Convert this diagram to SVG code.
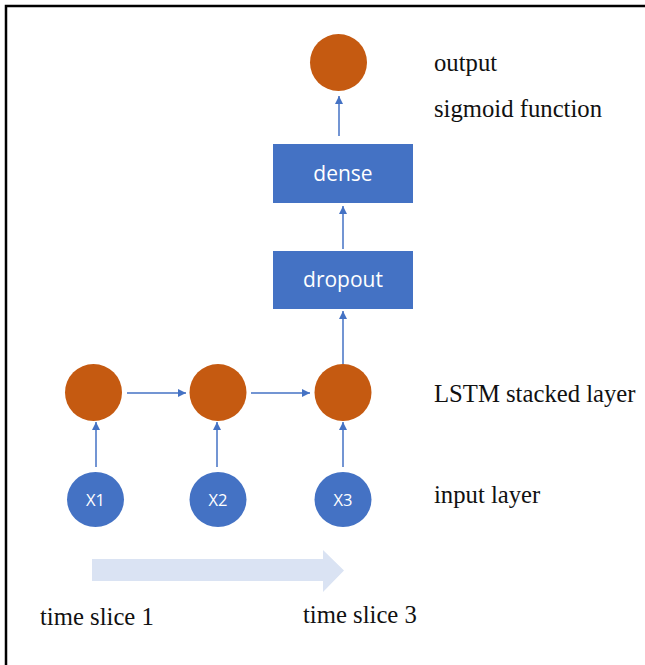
<svg xmlns="http://www.w3.org/2000/svg" width="645" height="665" viewBox="0 0 645 665">
  <style>
    .orange { fill: #C55A11; }
    .blue { fill: #4472C4; }
    .edge { stroke: #4472C4; stroke-width: 1.5; fill: none; marker-end: url(#head); }
    .label { font-family: "Liberation Serif", "Times New Roman", serif; font-size: 24.7px; fill: #111; }
    .inner { font-family: "Open Sans", "Noto Sans", sans-serif; fill: #fff; text-anchor: middle; }
  </style>
  <defs>
    <marker id="head" viewBox="0 0 10 10" refX="10" refY="5" markerWidth="8" markerHeight="8" markerUnits="userSpaceOnUse" orient="auto">
      <path d="M0 0 L10 5 L0 10 Z" fill="#4472C4"/>
    </marker>
  </defs>
  <rect width="645" height="665" fill="#fff"/>
  <!-- frame (left and top edges) -->
  <path d="M6 665 V6 H645" stroke="#000" stroke-width="2.5" fill="none"/>

  <!-- time direction arrow -->
  <path id="time-arrow" d="M92 559 H323 V550 L344 570.5 L323 592 V581 H92 Z" fill="#DAE3F3"/>

  <g id="connectors">
    <line class="edge" x1="339" y1="136" x2="339" y2="96"/>
    <line class="edge" x1="343" y1="249" x2="343" y2="206"/>
    <line class="edge" x1="343" y1="364" x2="343" y2="311"/>
    <line class="edge" x1="127" y1="393" x2="186" y2="393"/>
    <line class="edge" x1="251" y1="393" x2="310" y2="393"/>
    <line class="edge" x1="96" y1="467" x2="96" y2="422"/>
    <line class="edge" x1="217" y1="467" x2="217" y2="422"/>
    <line class="edge" x1="343" y1="467" x2="343" y2="422"/>
  </g>

  <g id="output-node"><circle class="orange" cx="338.5" cy="62.5" r="28.5"/></g>
  <g id="dense"><rect class="blue" x="273" y="144" width="140" height="59"/><text class="inner" x="343" y="181" font-size="21">dense</text></g>
  <g id="dropout"><rect class="blue" x="273" y="251" width="140" height="58"/><text class="inner" x="343" y="287" font-size="21">dropout</text></g>

  <g id="lstm1"><circle class="orange" cx="93.5" cy="392.5" r="28.5"/></g>
  <g id="lstm2"><circle class="orange" cx="218" cy="392.5" r="28.5"/></g>
  <g id="lstm3"><circle class="orange" cx="343" cy="392.5" r="28.5"/></g>

  <g id="x1"><ellipse class="blue" cx="95.5" cy="499.5" rx="28.5" ry="27.5"/><text class="inner" x="95.5" y="505.5" font-size="16.5">X1</text></g>
  <g id="x2"><ellipse class="blue" cx="218" cy="499.5" rx="28.5" ry="27.5"/><text class="inner" x="218" y="505.5" font-size="16.5">X2</text></g>
  <g id="x3"><ellipse class="blue" cx="343" cy="499.5" rx="28.5" ry="27.5"/><text class="inner" x="343" y="505.5" font-size="16.5">X3</text></g>

  <g id="labels">
    <text class="label" x="434" y="71">output</text>
    <text class="label" x="434" y="117">sigmoid function</text>
    <text class="label" x="434" y="402">LSTM stacked layer</text>
    <text class="label" x="434" y="503">input layer</text>
    <text class="label" x="40" y="625">time slice 1</text>
    <text class="label" x="303" y="623">time slice 3</text>
  </g>
</svg>
